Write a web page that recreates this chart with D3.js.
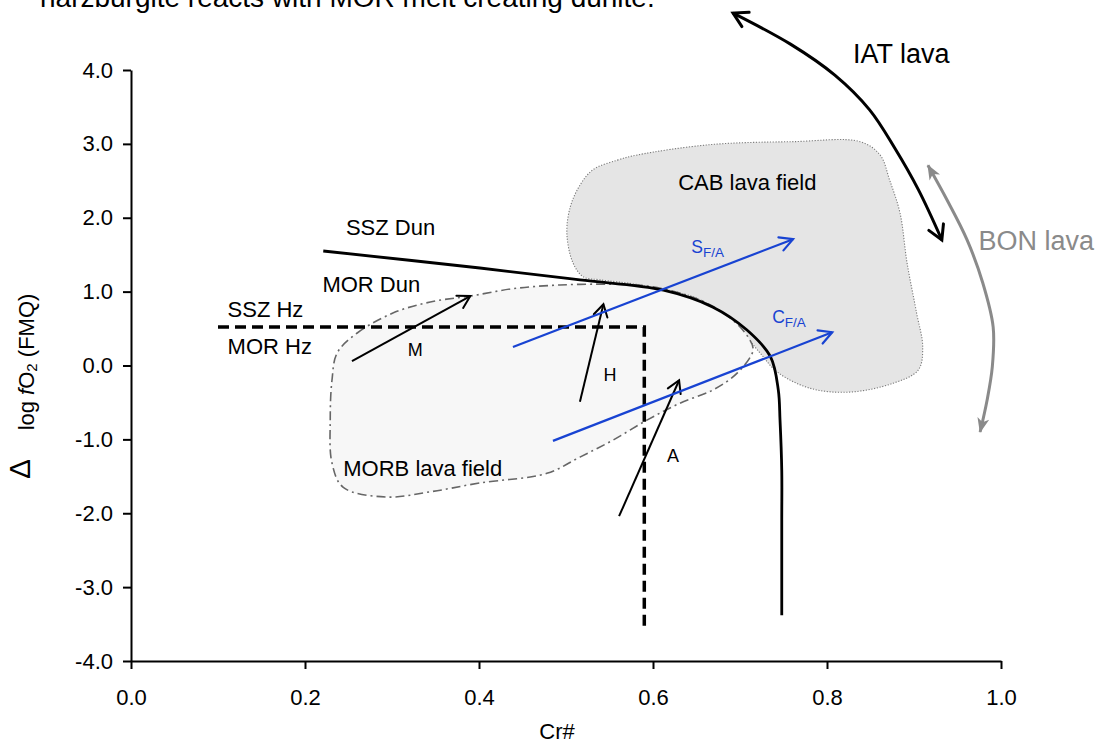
<!DOCTYPE html>
<html><head><meta charset="utf-8">
<script src="https://cdn.jsdelivr.net/npm/d3@7"></script>
<style>
html,body{margin:0;padding:0;background:#fff;}
svg{display:block;font-family:"Liberation Sans",Arial,sans-serif;}
</style></head><body>
<svg id="chart" width="1100" height="744"></svg>
<script>
// ---------- data (Cr#, Δlog fO2 FMQ) ----------
const xTicks = [0, 0.2, 0.4, 0.6, 0.8, 1.0];
const yTicks = [-4, -3, -2, -1, 0, 1, 2, 3, 4];
const xTitle = "Cr#";
const topNote = "harzburgite reacts with MOR melt creating dunite.";

const sszDunCr  = [0.221, 0.401, 0.516, 0.612, 0.669, 0.708, 0.735, 0.744, 0.746, 0.748, 0.748, 0.748];
const sszDunLog = [1.55, 1.32, 1.16, 1.02, 0.79, 0.48, 0.12, -0.33, -0.74, -1.42, -2.09, -3.38];

const hzBoundaryCr  = [0.10, 0.59, 0.59];
const hzBoundaryLog = [0.52, 0.52, -3.55];

const cabCr  = [0.531,0.559,0.582,0.666,0.761,0.838,0.861,0.872,0.884,0.892,0.903,0.910,0.905,0.876,0.826,0.781,0.743,0.723,0.700,0.654,0.585,0.539,0.520,0.508,0.501,0.505,0.516];
const cabLog = [2.65,2.78,2.85,2.99,3.03,3.03,2.85,2.51,2.06,1.39,0.71,0.25,-0.06,-0.24,-0.36,-0.31,-0.09,0.17,0.48,0.89,1.09,1.16,1.20,1.39,1.79,2.15,2.44];

const morbCr  = [0.237,0.260,0.301,0.344,0.390,0.439,0.493,0.551,0.591,0.631,0.666,0.694,0.709,0.715,0.697,0.669,0.631,0.593,0.554,0.516,0.478,0.401,0.344,0.294,0.244,0.231,0.229,0.231];
const morbLog = [0.17,0.44,0.71,0.86,0.94,1.04,1.09,1.10,1.08,0.98,0.82,0.59,0.39,0.21,-0.10,-0.33,-0.51,-0.74,-1.01,-1.24,-1.46,-1.59,-1.71,-1.78,-1.65,-1.32,-0.74,-0.20];

const meltArrowNames = ["M", "H", "A"];
const meltArrowCr0  = [0.254, 0.516, 0.561];
const meltArrowLog0 = [0.06, -0.49, -2.04];
const meltArrowCr1  = [0.390, 0.543, 0.630];
const meltArrowLog1 = [0.94, 0.83, -0.20];
const meltLabelCr  = [0.318, 0.543, 0.616];
const meltLabelLog = [0.13, -0.21, -1.31];

const fluxNames = ["S", "C"];
const fluxSub = "F/A";
const fluxCr0  = [0.439, 0.485];
const fluxLog0 = [0.25, -1.02];
const fluxCr1  = [0.761, 0.806];
const fluxLog1 = [1.71, 0.45];
const fluxLabelCr  = [0.644, 0.737];
const fluxLabelLog = [1.52, 0.58];

const iatCr  = [0.692, 0.758, 0.809, 0.849, 0.878, 0.905, 0.932];
const iatLog = [4.77, 4.35, 3.93, 3.46, 2.94, 2.38, 1.70];
const bonCr  = [0.916, 0.938, 0.961, 0.979, 0.991, 0.990, 0.984, 0.976];
const bonLog = [2.71, 2.24, 1.70, 1.12, 0.52, -0.02, -0.47, -0.90];
const lavaLabels = ["IAT lava", "BON lava"];
const lavaLabelCr  = [0.830, 0.974];
const lavaLabelLog = [4.09, 1.56];

const fieldLabels   = ["SSZ Dun", "MOR Dun", "SSZ Hz", "MOR Hz", "MORB lava field", "CAB lava field"];
const fieldLabelCr  = [0.247, 0.220, 0.111, 0.111, 0.244, 0.629];
const fieldLabelLog = [1.77, 0.99, 0.66, 0.16, -1.50, 2.38];

// ---------- drawing ----------
const svg = d3.select("#chart");
const x = d3.scaleLinear().domain([0, 1]).range([131, 1001]);
const y = d3.scaleLinear().domain([-4, 4]).range([661, 70]);
const zip = (a, b) => a.map((v, i) => [v, b[i]]);
const BLUE = "#1843d2", GREY = "#8a8a8a";

svg.append("rect").attr("width", 1100).attr("height", 744).attr("fill", "#fff");

const defs = svg.append("defs");
function chevron(id, color, len, half, sw) {
  defs.append("marker").attr("id", id).attr("markerUnits", "userSpaceOnUse")
    .attr("viewBox", `${-len - 4} ${-half - 4} ${len + 8} ${2 * half + 8}`)
    .attr("refX", 0).attr("refY", 0)
    .attr("markerWidth", len + 8).attr("markerHeight", 2 * half + 8)
    .attr("orient", "auto-start-reverse")
    .append("path").attr("d", `M${-len},${-half}L0,0L${-len},${half}`)
    .attr("fill", "none").attr("stroke", color).attr("stroke-width", sw)
    .attr("stroke-linecap", "round").attr("stroke-linejoin", "miter");
}
chevron("arrBlack", "#000", 12, 7, 2);
chevron("arrBlue", BLUE, 13, 7, 2.2);
chevron("arrIAT", "#000", 14, 8, 3);
defs.append("marker").attr("id", "arrBON").attr("markerUnits", "userSpaceOnUse")
  .attr("viewBox", "-16 -8 18 16").attr("refX", 0).attr("refY", 0)
  .attr("markerWidth", 18).attr("markerHeight", 16).attr("orient", "auto-start-reverse")
  .append("path").attr("d", "M1,0L-14,-6L-10,0L-14,6Z").attr("fill", GREY);

// fields
const closed = d3.line().x(d => x(d[0])).y(d => y(d[1])).curve(d3.curveCatmullRomClosed.alpha(0.5));
svg.append("path").attr("d", closed(zip(cabCr, cabLog)))
  .attr("fill", "#e5e5e5").attr("stroke", "#7a7a7a").attr("stroke-width", 1.1)
  .attr("stroke-dasharray", "1.2,1.6");
svg.append("path").attr("d", closed(zip(morbCr, morbLog)))
  .attr("fill", "#f7f7f7").attr("stroke", "#666").attr("stroke-width", 1.6)
  .attr("stroke-dasharray", "9,4,2,4");

// axes
const yAxis = svg.append("g").attr("transform", `translate(${x(0)},0)`)
  .call(d3.axisLeft(y).tickValues(yTicks).tickFormat(d => d.toFixed(1)).tickSize(8).tickSizeOuter(0).tickPadding(10));
const xAxis = svg.append("g").attr("transform", `translate(0,${y(-4)})`)
  .call(d3.axisBottom(x).tickValues(xTicks).tickFormat(d => d.toFixed(1)).tickSize(8).tickSizeOuter(0).tickPadding(20));
[yAxis, xAxis].forEach(g => {
  g.select(".domain").attr("stroke", "#000").attr("stroke-width", 2);
  g.selectAll(".tick line").attr("stroke", "#000").attr("stroke-width", 2);
  g.selectAll(".tick text").attr("fill", "#000").style("font-size", "22px")
    .style("font-family", '"Liberation Sans",Arial,sans-serif');
});

const line = d3.line().x(d => x(d[0])).y(d => y(d[1]));
const smooth = d3.line().x(d => x(d[0])).y(d => y(d[1])).curve(d3.curveCatmullRom.alpha(0.5));

// Hz boundary (dashed)
svg.append("path").attr("d", line(zip(hzBoundaryCr, hzBoundaryLog)))
  .attr("fill", "none").attr("stroke", "#000").attr("stroke-width", 3.5)
  .attr("stroke-dasharray", "11,6");

// SSZ Dun curve
svg.append("path").attr("d", smooth(zip(sszDunCr, sszDunLog)))
  .attr("fill", "none").attr("stroke", "#000").attr("stroke-width", 2.8);

// melt arrows
meltArrowNames.forEach((n, i) => {
  svg.append("line")
    .attr("x1", x(meltArrowCr0[i])).attr("y1", y(meltArrowLog0[i]))
    .attr("x2", x(meltArrowCr1[i])).attr("y2", y(meltArrowLog1[i]))
    .attr("stroke", "#000").attr("stroke-width", 2).attr("marker-end", "url(#arrBlack)");
  svg.append("text").attr("x", x(meltLabelCr[i])).attr("y", y(meltLabelLog[i]))
    .attr("font-size", 18).attr("fill", "#000").text(n);
});

// flux arrows (blue)
fluxNames.forEach((n, i) => {
  svg.append("line")
    .attr("x1", x(fluxCr0[i])).attr("y1", y(fluxLog0[i]))
    .attr("x2", x(fluxCr1[i])).attr("y2", y(fluxLog1[i]))
    .attr("stroke", BLUE).attr("stroke-width", 2.2).attr("marker-end", "url(#arrBlue)");
  const t = svg.append("text").attr("x", x(fluxLabelCr[i])).attr("y", y(fluxLabelLog[i]))
    .attr("fill", BLUE).attr("font-size", 17.5);
  t.append("tspan").text(n);
  t.append("tspan").attr("font-size", 13.5).attr("dy", 4).text(fluxSub);
});

// lava arrows
svg.append("path").attr("d", smooth(zip(iatCr, iatLog)))
  .attr("fill", "none").attr("stroke", "#000").attr("stroke-width", 3)
  .attr("marker-start", "url(#arrIAT)").attr("marker-end", "url(#arrIAT)");
svg.append("path").attr("d", smooth(zip(bonCr, bonLog)))
  .attr("fill", "none").attr("stroke", GREY).attr("stroke-width", 3)
  .attr("marker-start", "url(#arrBON)").attr("marker-end", "url(#arrBON)");
lavaLabels.forEach((s, i) => {
  svg.append("text").attr("x", x(lavaLabelCr[i])).attr("y", y(lavaLabelLog[i]))
    .attr("font-size", 27).attr("fill", i === 0 ? "#000" : GREY).text(s);
});

// field labels
fieldLabels.forEach((s, i) => {
  svg.append("text").attr("x", x(fieldLabelCr[i])).attr("y", y(fieldLabelLog[i]))
    .attr("font-size", 22).attr("fill", "#000").text(s);
});

// axis titles
svg.append("text").attr("x", (x(0) + x(1)) / 2 - 9).attr("y", 739)
  .attr("text-anchor", "middle").attr("font-size", 22).text(xTitle);
svg.append("text").attr("transform", "translate(30,469) rotate(-90)")
  .attr("text-anchor", "middle").attr("font-size", 30).text("Δ");
const yl = svg.append("text").attr("transform", "translate(34,362) rotate(-90)")
  .attr("text-anchor", "middle").attr("font-size", 22);
yl.append("tspan").text("log ");
yl.append("tspan").attr("font-style", "italic").text("f");
yl.append("tspan").text("O");
yl.append("tspan").attr("font-size", 15).attr("dy", 3).text("2");
yl.append("tspan").attr("dy", -3).text(" (FMQ)");

// cut-off note at top
svg.append("text").attr("x", 40).attr("y", 7).attr("font-size", 28).attr("fill", "#000").text(topNote);
</script>
</body></html>
